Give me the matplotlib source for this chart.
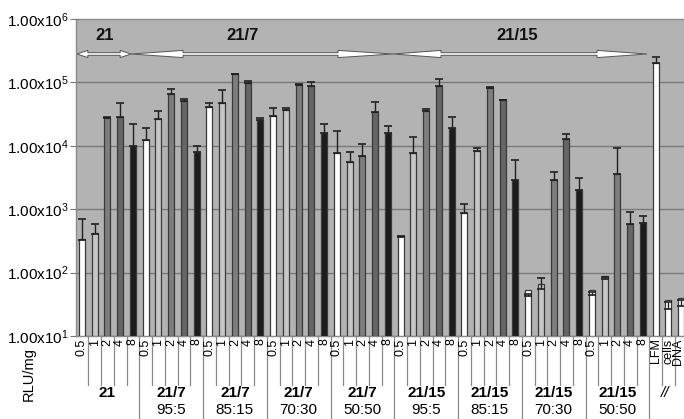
import matplotlib
matplotlib.use("Agg")
import matplotlib.pyplot as plt
from matplotlib.transforms import blended_transform_factory
from matplotlib.patches import Polygon
import numpy as np

plt.rcParams['font.family'] = ['Liberation Sans', 'DejaVu Sans']
plt.rcParams['mathtext.fontset'] = 'custom'
plt.rcParams['mathtext.rm'] = 'Liberation Sans'
plt.rcParams['mathtext.it'] = 'Liberation Sans:italic'
plt.rcParams['mathtext.bf'] = 'Liberation Sans:bold'

# ---- data -------------------------------------------------------------
doses = ["0.5", "1", "2", "4", "8"]
group_names = ["21", "21/7", "21/7", "21/7", "21/7",
               "21/15", "21/15", "21/15", "21/15"]
group_ratios = ["", "95:5", "85:15", "70:30", "50:50",
                "95:5", "85:15", "70:30", "50:50"]

# mean RLU/mg per group (rows) and dose (columns)
means = [
    [326, 405, 27700, 28000, 10000],
    [12400, 26000, 64800, 51300, 8040],
    [41200, 46700, 133600, 98600, 25400],
    [29000, 36100, 91600, 88300, 16000],
    [7770, 5600, 6800, 33600, 15860],
    [367, 7770, 35200, 88300, 19000],
    [859, 8170, 82200, 52000, 2850],
    [42.6, 56, 2850, 12800, 1980],
    [43.6, 78, 3580, 582, 603],
]
errors = [
    [364, 170, 800, 18700, 11700],
    [6800, 8800, 14200, 3200, 1760],
    [6500, 28100, 2400, 6100, 2100],
    [10800, 2800, 3400, 11700, 6300],
    [9230, 2340, 3800, 15200, 4840],
    [8, 5930, 2800, 24500, 9700],
    [358, 930, 1800, 1500, 3110],
    [3.1, 25.9, 1000, 2300, 1150],
    [6.4, 6, 5520, 318, 192],
]
control_names = ["LFM", "cells", "DNA"]
control_means = [199500, 26.6, 29.3]
control_errors = [48500, 7.4, 7.7]

top_labels = ["21", "21/7", "21/15"]

# ---- styling ----------------------------------------------------------
dose_colors = ['#ffffff', '#c6c6c6', '#7e7e7e', '#666666', '#1c1c1c']
bg = '#b3b3b3'
edge = '#3a3a3a'

W, H = 684, 419
fig = plt.figure(figsize=(W / 100, H / 100), dpi=100)
ax_left, ax_bottom, ax_w, ax_h = 75.5, 83, 612, 317
ax = fig.add_axes([ax_left / W, ax_bottom / H, ax_w / W, ax_h / H])
ax.set_facecolor(bg)

n_groups = len(means)
n_dose = len(doses)
n_slots = n_groups * n_dose + len(control_names)
bar_w = 0.47

xs, ys, es, cs = [], [], [], []
for g in range(n_groups):
    for d in range(n_dose):
        xs.append(g * n_dose + d + 0.5)
        ys.append(means[g][d])
        es.append(errors[g][d])
        cs.append(dose_colors[d])
for k in range(len(control_names)):
    xs.append(n_groups * n_dose + k + 0.5)
    ys.append(control_means[k])
    es.append(control_errors[k])
    cs.append('#ffffff')

ax.set_yscale('log')
ax.set_ylim(10, 1e6)
ax.set_xlim(0, n_slots)

for k in range(1, 6):
    ax.axhline(10 ** k, color='#7a7a7a', lw=1.0, zorder=1)

ax.bar(xs, ys, width=bar_w, bottom=10, color=cs, edgecolor=edge,
       linewidth=0.9, zorder=3)
ax.errorbar(xs, ys, yerr=[np.zeros(len(es)), es], fmt='none',
            ecolor='#202020', elinewidth=1.0, capsize=2.6, capthick=1.2,
            zorder=4)

ax.set_yticks([10 ** k for k in range(1, 7)])
ax.set_yticklabels([r'1.00x10$^{\mathrm{%d}}$' % k for k in range(1, 7)],
                   fontsize=11)
ax.yaxis.set_minor_locator(matplotlib.ticker.NullLocator())
ax.tick_params(axis='y', length=4, color='#777777', pad=1)
ax.set_xticks([])
for s in ax.spines.values():
    s.set_color('#8a8a8a')
    s.set_linewidth(1.0)

trans = blended_transform_factory(ax.transData, ax.transAxes)


def fy(p):
    """pixel row (from the top of the figure) to axes fraction"""
    return (336 - p) / ax_h


def px2s(p):
    """pixel column to bar-slot coordinate"""
    return (p - ax_left) / 12.75


# ---- top arrows -------------------------------------------------------
def arrow(x0, x1, h0, h1, y=fy(54)):
    sw = 1.3 / ax_h
    hw = 3.6 / ax_h
    pts = [(x0, y), (x0 + h0, y + hw), (x0 + h0, y + sw),
           (x1 - h1, y + sw), (x1 - h1, y + hw), (x1, y),
           (x1 - h1, y - hw), (x1 - h1, y - sw), (x0 + h0, y - sw),
           (x0 + h0, y - hw)]
    ax.add_patch(Polygon(pts, closed=True, facecolor='white',
                         edgecolor='#555555', lw=0.7, transform=trans,
                         zorder=5, clip_on=False))


arrow(px2s(77), px2s(131), 0.85, 0.85)
arrow(px2s(131), px2s(393), px2s(183) - px2s(131), px2s(393) - px2s(338))
arrow(px2s(393), px2s(647), px2s(441) - px2s(393), px2s(647) - px2s(597))

for lab, px in zip(top_labels, [104.5, 243, 516.7]):
    ax.text(px2s(px), fy(35.5), lab, transform=trans, ha='center',
            va='center', fontsize=12, fontweight='bold', color='#111111',
            zorder=6)

# ---- category axis below the plot ------------------------------------
sep_kw = dict(color='#8a8a8a', lw=0.9, transform=trans, clip_on=False)
for i in range(1, n_slots):
    if i % n_dose == 0 and i <= n_groups * n_dose:
        ax.plot([i, i], [0, fy(419)], **sep_kw)
    else:
        ax.plot([i, i], [0, fy(385)], **sep_kw)

for g in range(n_groups):
    for d in range(n_dose):
        ax.text(g * n_dose + d + 0.5, fy(338.5), doses[d], transform=trans,
                rotation=90, ha='center', va='top', fontsize=9)
    cx = g * n_dose + n_dose / 2
    ax.text(cx, fy(393), group_names[g], transform=trans, ha='center',
            va='center', fontsize=11, fontweight='bold')
    if group_ratios[g]:
        ax.text(cx, fy(410), group_ratios[g], transform=trans,
                ha='center', va='center', fontsize=11)

control_label_px = [655.5, 668.0, 678.5]
for name, px in zip(control_names, control_label_px):
    ax.text(px2s(px), fy(338.5), name, transform=trans, rotation=90,
            ha='center', va='top', fontsize=9)
ax.text(px2s(665), fy(393), "//", transform=trans, ha='center',
        va='center', fontsize=11, style='italic')

fig.text(29 / W, 1 - 374 / H, "RLU/mg", rotation=90, ha='center',
         va='center', fontsize=10.5)

fig.savefig("out.png", dpi=100, facecolor='white')
